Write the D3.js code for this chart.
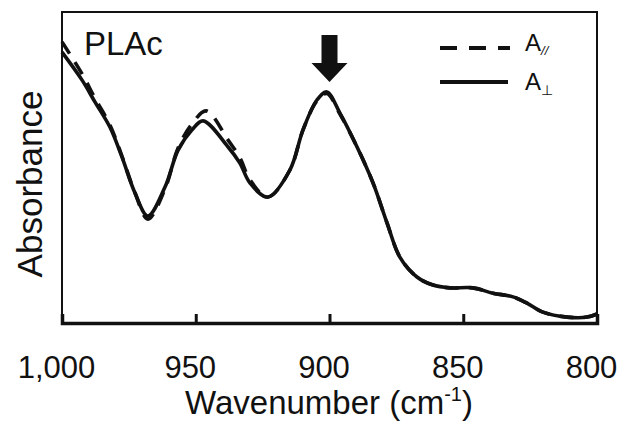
<!DOCTYPE html>
<html>
<head>
<meta charset="utf-8">
<script src="https://cdn.jsdelivr.net/npm/d3@7"></script>
<style>
  html, body { margin: 0; padding: 0; background: #fff; }
  svg { display: block; }
  text { font-family: "Liberation Sans", Arial, sans-serif; fill: #111; }
</style>
</head>
<body>
<svg id="chart" width="620" height="422"></svg>
<script>
// ---- data (wavenumber in cm-1, absorbance in arbitrary units) ----
const wnPerp = [1000, 992.5, 987.7, 982.1, 977.6, 972.7, 967.9, 961.5, 956.6, 951.4, 947.3, 937.9, 933.5, 929.7, 923.0, 914.8, 909.9, 904.7, 901.0, 896.1, 889.7, 883.7, 878.5, 873.7, 867.3, 861.3, 855.0, 846.4, 838.9, 831.4, 826.2, 820.2, 811.2, 803.7, 800];
const absPerp = [0.871, 0.781, 0.711, 0.630, 0.534, 0.418, 0.344, 0.437, 0.556, 0.621, 0.650, 0.566, 0.514, 0.450, 0.405, 0.492, 0.621, 0.717, 0.743, 0.675, 0.566, 0.450, 0.322, 0.212, 0.148, 0.122, 0.113, 0.113, 0.096, 0.084, 0.064, 0.035, 0.019, 0.019, 0.029];

const wnPar = [1000, 992.5, 987.7, 982.1, 977.6, 972.7, 967.9, 961.5, 956.6, 951.4, 946.1, 937.9, 933.5, 929.7, 923.0, 914.8, 909.9, 904.7, 901.0, 896.1, 889.7, 883.7, 878.5, 873.7, 867.3, 861.3, 855.0, 846.4, 838.9, 831.4, 826.2, 820.2, 811.2, 803.7, 800];
const absPar = [0.904, 0.801, 0.723, 0.637, 0.537, 0.418, 0.334, 0.431, 0.563, 0.640, 0.682, 0.588, 0.531, 0.460, 0.405, 0.492, 0.621, 0.714, 0.738, 0.672, 0.566, 0.450, 0.322, 0.212, 0.148, 0.122, 0.113, 0.113, 0.096, 0.084, 0.064, 0.035, 0.019, 0.019, 0.029];

const xTicks = [1000, 950, 900, 850, 800];
const markedPeak = 900;
const sampleLabel = "PLAc";

// ---- layout ----
const svg = d3.select("#chart");
const mLeft = 62, mRight = 597, mTop = 12, mBottom = 323;

const x = d3.scaleLinear().domain([1000, 800]).range([mLeft, mRight]);
const y = d3.scaleLinear().domain([0, 1]).range([mBottom, mTop]);

// frame
svg.append("rect")
  .attr("x", mLeft).attr("y", mTop)
  .attr("width", mRight - mLeft).attr("height", mBottom - mTop)
  .attr("fill", "none").attr("stroke", "#111").attr("stroke-width", 2);

// x axis (ticks pointing inward)
const xAxis = d3.axisBottom(x)
  .tickValues(xTicks)
  .tickSize(-9)
  .tickPadding(26)
  .tickFormat(d3.format(","));
const gx = svg.append("g").attr("transform", `translate(0,${mBottom})`).call(xAxis);
gx.select(".domain").attr("stroke", "#111").attr("stroke-width", 3.5);
gx.selectAll(".tick line").attr("stroke", "#111").attr("stroke-width", 3);
gx.selectAll(".tick text")
  .attr("font-size", 31)
  .attr("font-family", "Liberation Sans, Arial, sans-serif")
  .attr("fill", "#111")
  .attr("dy", null)
  .attr("x", -6)
  .attr("y", 55);

// axis titles
const xt = svg.append("text")
  .attr("x", 329).attr("y", 414)
  .attr("text-anchor", "middle").attr("font-size", 33);
xt.append("tspan").text("Wavenumber (cm");
xt.append("tspan").text("-1").attr("font-size", 20).attr("dy", -13);
xt.append("tspan").text(")").attr("dy", 13);

svg.append("text")
  .attr("transform", `translate(42,${184}) rotate(-90)`)
  .attr("text-anchor", "middle").attr("font-size", 35)
  .text("Absorbance");

// curves
const line = d3.line().curve(d3.curveCatmullRom.alpha(0.5));
const perpPts = wnPerp.map((w, i) => [x(w), y(absPerp[i])]);
const parPts = wnPar.map((w, i) => [x(w), y(absPar[i])]);

svg.append("path").attr("d", line(perpPts))
  .attr("fill", "none").attr("stroke", "#111").attr("stroke-width", 3.6)
  .attr("stroke-linejoin", "round");
svg.append("path").attr("d", line(parPts))
  .attr("fill", "none").attr("stroke", "#111").attr("stroke-width", 3.6)
  .attr("stroke-dasharray", "14,10");

// sample label
svg.append("text").attr("x", 84).attr("y", 55).attr("font-size", 33).text(sampleLabel);

// arrow marking the peak
const ax = x(markedPeak);
const arrow = d3.path();
arrow.moveTo(ax - 8, 35);
arrow.lineTo(ax + 8, 35);
arrow.lineTo(ax + 8, 63);
arrow.lineTo(ax + 18, 63);
arrow.lineTo(ax, 82);
arrow.lineTo(ax - 18, 63);
arrow.lineTo(ax - 8, 63);
arrow.closePath();
svg.append("path").attr("d", arrow.toString()).attr("fill", "#111");

// legend
const lg = svg.append("g");
lg.append("line").attr("x1", 440).attr("x2", 510).attr("y1", 48).attr("y2", 48)
  .attr("stroke", "#111").attr("stroke-width", 4).attr("stroke-dasharray", "17,12");
lg.append("line").attr("x1", 440).attr("x2", 508).attr("y1", 82).attr("y2", 82)
  .attr("stroke", "#111").attr("stroke-width", 4);
const t1 = lg.append("text").attr("x", 525).attr("y", 51).attr("font-size", 24);
t1.append("tspan").text("A");
t1.append("tspan").text("//").attr("font-size", 13).attr("dy", 4).attr("font-style", "italic");
const t2 = lg.append("text").attr("x", 525).attr("y", 90).attr("font-size", 24);
t2.append("tspan").text("A");
t2.append("tspan").text("⊥").attr("font-size", 14).attr("dy", 5);
</script>
</body>
</html>
